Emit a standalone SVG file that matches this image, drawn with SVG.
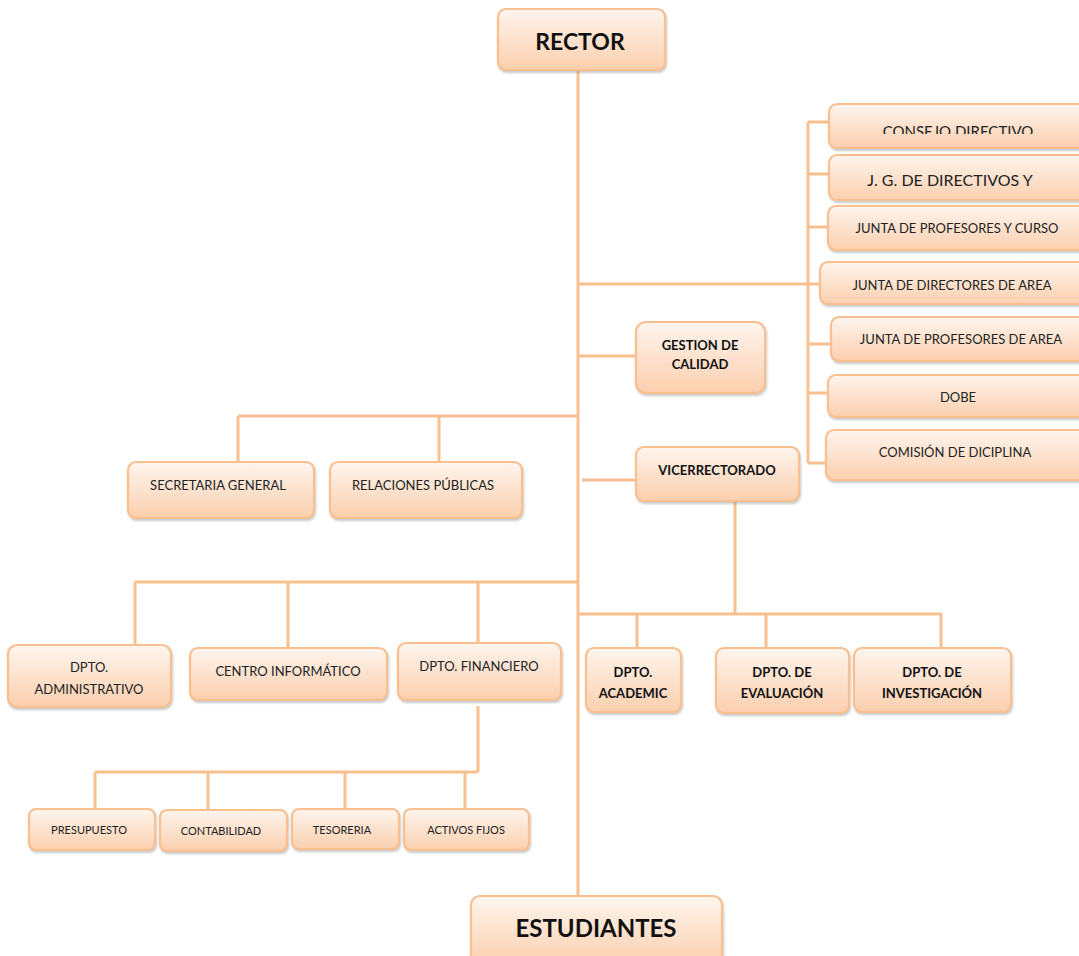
<svg xmlns="http://www.w3.org/2000/svg" width="1079" height="956" viewBox="0 0 1079 956">
<style>
.bx{fill:url(#g);stroke:#f9bf8f;stroke-width:2.2;filter:url(#sh)}
.ln{stroke:#f9c08f;stroke-width:3;fill:none}
.t{font-family:Lato,"Liberation Sans",sans-serif;font-size:13px;fill:#222;text-anchor:middle}
.s{font-size:11px}
.b{font-weight:bold;fill:#111}
.big{font-family:Lato,"Liberation Sans",sans-serif;font-weight:bold;text-anchor:middle;fill:#111}
</style>
<defs>
<linearGradient id="g" x1="0" y1="0" x2="0" y2="1">
<stop offset="0" stop-color="#fef5ee"/>
<stop offset="1" stop-color="#fbcfae"/>
</linearGradient>
<filter id="sh" x="-10%" y="-10%" width="120%" height="130%">
<feDropShadow dx="1" dy="2" stdDeviation="1.2" flood-color="#888" flood-opacity="0.45"/>
</filter>
<clipPath id="cl"><rect x="829" y="100" width="250" height="34"/></clipPath>
</defs>
<rect width="1079" height="956" fill="#fff"/>
<g id="connectors">
<path class="ln" d="M578 70V896"/>
<path class="ln" d="M578 284H820M808 122V463M808 122H830M808 174H830M808 227H830M808 344H832M808 393H829M808 463H827"/>
<path class="ln" d="M578 356H636M582 480H636"/>
<path class="ln" d="M735 501V614M578 614H942M637 614V648M766 614V648M941 614V648"/>
<path class="ln" d="M238 416H578M238 416V462M439 416V462"/>
<path class="ln" d="M135 582H578M135 582V645M288 582V648M478 582V643"/>
<path class="ln" d="M478 706V772M95 772H478M95 772V809M208 772V810M345 772V809M465 772V809"/>
</g>
<g id="rector"><rect class="bx" x="498" y="9" width="167" height="61" rx="8"/><text class="big" x="580" y="50" font-size="23">RECTOR</text></g>
<g id="consejo"><rect class="bx" x="829" y="104" width="260" height="44" rx="8"/><text class="t" x="958" y="137" clip-path="url(#cl)" style="font-size:15px">CONSEJO DIRECTIVO</text></g>
<g id="jg"><rect class="bx" x="829" y="155" width="260" height="45" rx="8"/><text class="t" x="950" y="186" style="font-size:16px">J. G. DE DIRECTIVOS Y</text></g>
<g id="jpc"><rect class="bx" x="828" y="206" width="260" height="44" rx="8"/><text class="t" x="957" y="233">JUNTA DE PROFESORES Y CURSO</text></g>
<g id="jda"><rect class="bx" x="820" y="262" width="268" height="42" rx="8"/><text class="t" x="952" y="290">JUNTA DE DIRECTORES DE AREA</text></g>
<g id="jpa"><rect class="bx" x="831" y="317" width="258" height="44" rx="8"/><text class="t" x="961" y="344">JUNTA DE PROFESORES DE AREA</text></g>
<g id="dobe"><rect class="bx" x="828" y="375" width="260" height="42" rx="8"/><text class="t" x="958" y="402">DOBE</text></g>
<g id="comision"><rect class="bx" x="826" y="430" width="262" height="50" rx="8"/><text class="t" x="955" y="457">COMISIÓN DE DICIPLINA</text></g>
<g id="gestion"><rect class="bx" x="636" y="322" width="129" height="71" rx="10"/><text class="t b" x="700" y="350">GESTION DE</text><text class="t b" x="700" y="369">CALIDAD</text></g>
<g id="vice"><rect class="bx" x="636" y="447" width="163" height="54" rx="8"/><text class="t b" x="717" y="475">VICERRECTORADO</text></g>
<g id="sec"><rect class="bx" x="128" y="462" width="186" height="56" rx="8"/><text class="t" x="218" y="490">SECRETARIA GENERAL</text></g>
<g id="rel"><rect class="bx" x="330" y="462" width="192" height="56" rx="8"/><text class="t" x="423" y="490">RELACIONES PÚBLICAS</text></g>
<g id="adm"><rect class="bx" x="8" y="645" width="163" height="62" rx="9"/><text class="t" x="89" y="672">DPTO.</text><text class="t" x="89" y="694">ADMINISTRATIVO</text></g>
<g id="centro"><rect class="bx" x="190" y="648" width="197" height="52" rx="8"/><text class="t" x="288" y="676">CENTRO INFORMÁTICO</text></g>
<g id="fin"><rect class="bx" x="398" y="643" width="163" height="57" rx="8"/><text class="t" x="479" y="671">DPTO. FINANCIERO</text></g>
<g id="acad"><rect class="bx" x="586" y="648" width="95" height="64" rx="8"/><text class="t b" x="633" y="677">DPTO.</text><text class="t b" x="633" y="698">ACADEMIC</text></g>
<g id="eval"><rect class="bx" x="716" y="648" width="133" height="65" rx="8"/><text class="t b" x="782" y="677">DPTO. DE</text><text class="t b" x="782" y="698">EVALUACIÓN</text></g>
<g id="inv"><rect class="bx" x="854" y="648" width="157" height="64" rx="8"/><text class="t b" x="932" y="677">DPTO. DE</text><text class="t b" x="932" y="698">INVESTIGACIÓN</text></g>
<g id="pres"><rect class="bx" x="29" y="809" width="126" height="41" rx="7"/><text class="t s" x="89" y="834">PRESUPUESTO</text></g>
<g id="cont"><rect class="bx" x="160" y="810" width="127" height="41" rx="7"/><text class="t s" x="221" y="835">CONTABILIDAD</text></g>
<g id="tes"><rect class="bx" x="292" y="809" width="107" height="40" rx="7"/><text class="t s" x="342" y="834">TESORERIA</text></g>
<g id="act"><rect class="bx" x="404" y="809" width="125" height="41" rx="7"/><text class="t s" x="466" y="834">ACTIVOS FIJOS</text></g>
<g id="est"><rect class="bx" x="471" y="896" width="251" height="70" rx="9"/><text class="big" x="596" y="937" font-size="24">ESTUDIANTES</text></g>
</svg>
